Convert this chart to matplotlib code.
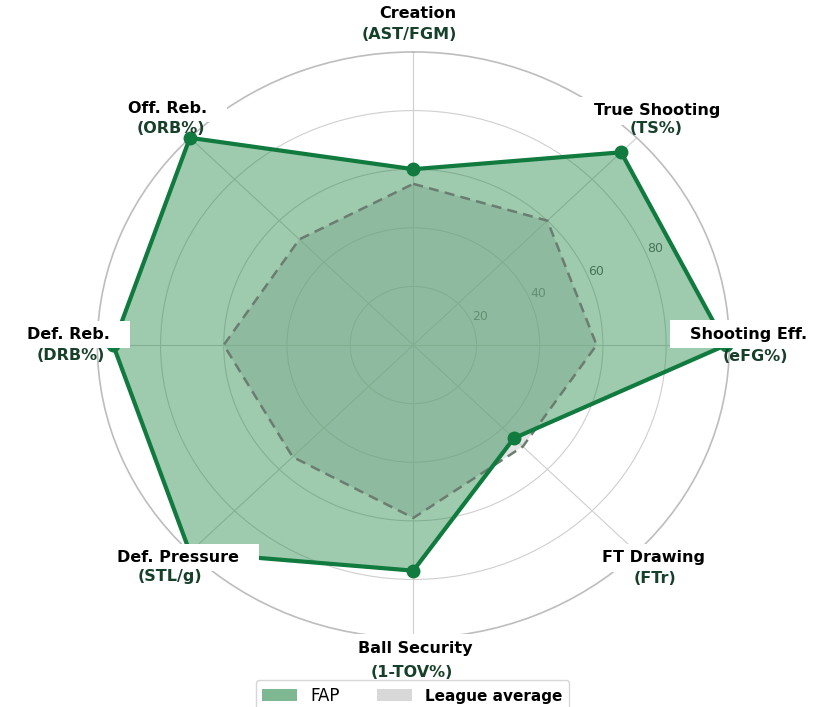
import numpy as np
import matplotlib
matplotlib.use("Agg")
import matplotlib.pyplot as plt
from matplotlib.patches import Patch
from matplotlib.path import Path
from matplotlib.transforms import offset_copy

categories = ["Creation", "True Shooting", "Shooting Eff.", "FT Drawing",
              "Ball Security", "Def. Pressure", "Def. Reb.", "Off. Reb."]
subtitles = ["(AST/FGM)", "(TS%)", "(eFG%)", "(FTr)",
             "(1-TOV%)", "(STL/g)", "(DRB%)", "(ORB%)"]
fap_values = [60, 93, 99, 45, 77, 100, 95, 100]
league_values = [55, 60, 58, 49, 59, 54, 60, 51]
r_ticks = [20, 40, 60, 80]

# label block placement
label_radius = [109.4, 108.7, 107.3, 107.8, 107.5, 107.1, 108.7, 109.4]
name_dx = [9, 1, -7, -1, 3, 8, -2, -3]
line_gap = [21, 18, 22, 21, 24, 19, 21, 20]

FAP_COLOR = "#288a4c"
LINE_COLOR = "#117a3e"
LEAGUE_COLOR = "#c8c8c8"
SUB_COLOR = "#17402a"


def wide_box(x0, y0, width, height, mutation_size):
    px = 1.25 * mutation_size
    py = 0.4 * mutation_size
    x0, y0 = x0 - px, y0 - py
    x1, y1 = x0 + width + 2 * px, y0 + height + 2 * py
    return Path([(x0, y0), (x1, y0), (x1, y1), (x0, y1), (x0, y0)], closed=True)


n = len(categories)
angles = np.linspace(0, 2 * np.pi, n, endpoint=False)
ang_c = np.concatenate([angles, angles[:1]])
fap_c = fap_values + fap_values[:1]
lea_c = league_values + league_values[:1]

fig = plt.figure(figsize=(8.25, 7.07), dpi=100)
ax = fig.add_axes([0.118, 0.0975, 0.766, 0.829], projection="polar")
ax.set_aspect("auto")
ax.set_theta_offset(np.pi / 2)
ax.set_theta_direction(-1)
ax.set_ylim(0, 100)

# grid
ax.set_xticks(angles)
ax.set_xticklabels([])
ax.set_yticks(r_ticks)
ax.set_yticklabels([str(t) for t in r_ticks], color="#606060", fontsize=9)
ax.set_rlabel_position(67.5)
ax.grid(True, color="#cfcfcf", linewidth=0.8)
ax.spines["polar"].set_color("#bdbdbd")
ax.spines["polar"].set_linewidth(1.2)
ax.tick_params(axis="y", pad=0)

# league average
ax.fill(ang_c, lea_c, color=LEAGUE_COLOR, alpha=0.5, zorder=2, linewidth=0)
# FAP
ax.fill(ang_c, fap_c, color=FAP_COLOR, alpha=0.45, zorder=3, linewidth=0, clip_on=False)
ax.plot(ang_c, lea_c, color="#6b7d70", linestyle=(0, (4, 2.5)), linewidth=1.8, zorder=4)
ax.plot(ang_c, fap_c, color=LINE_COLOR, linewidth=3, zorder=5, clip_on=False)
ax.plot(angles, fap_values, "o", color=LINE_COLOR, markersize=9, zorder=6, clip_on=False)

# labels
for ang, name, sub, rr, dx, gap in zip(angles, categories, subtitles,
                                       label_radius, name_dx, line_gap):
    t_name = offset_copy(ax.transData, fig=fig, x=dx / 2, y=gap / 2, units="dots")
    t_sub = offset_copy(ax.transData, fig=fig, x=-dx / 2, y=-gap / 2, units="dots")
    ax.text(ang, rr, name, transform=t_name, ha="center", va="center",
            fontsize=11.5, fontweight="bold", color="black", zorder=10,
            clip_on=False,
            bbox=dict(boxstyle=wide_box, fc="white", ec="none"))
    ax.text(ang, rr, sub, transform=t_sub, ha="center", va="center",
            fontsize=11.5, fontweight="bold", color=SUB_COLOR, zorder=11,
            clip_on=False)

handles = [Patch(facecolor=FAP_COLOR, alpha=0.6, label="FAP"),
           Patch(facecolor=LEAGUE_COLOR, alpha=0.7, label="League average")]
leg = fig.legend(handles=handles, loc="upper center", bbox_to_anchor=(0.5, 0.0382),
                 ncol=2, frameon=True, fontsize=12, handlelength=2.1,
                 handletextpad=0.8, columnspacing=2.2, borderpad=0.4,
                 borderaxespad=0)
leg.get_frame().set_edgecolor("#cccccc")
texts = leg.get_texts()
texts[1].set_fontweight("bold")
texts[1].set_fontsize(11)

fig.savefig("out.png", dpi=100)
